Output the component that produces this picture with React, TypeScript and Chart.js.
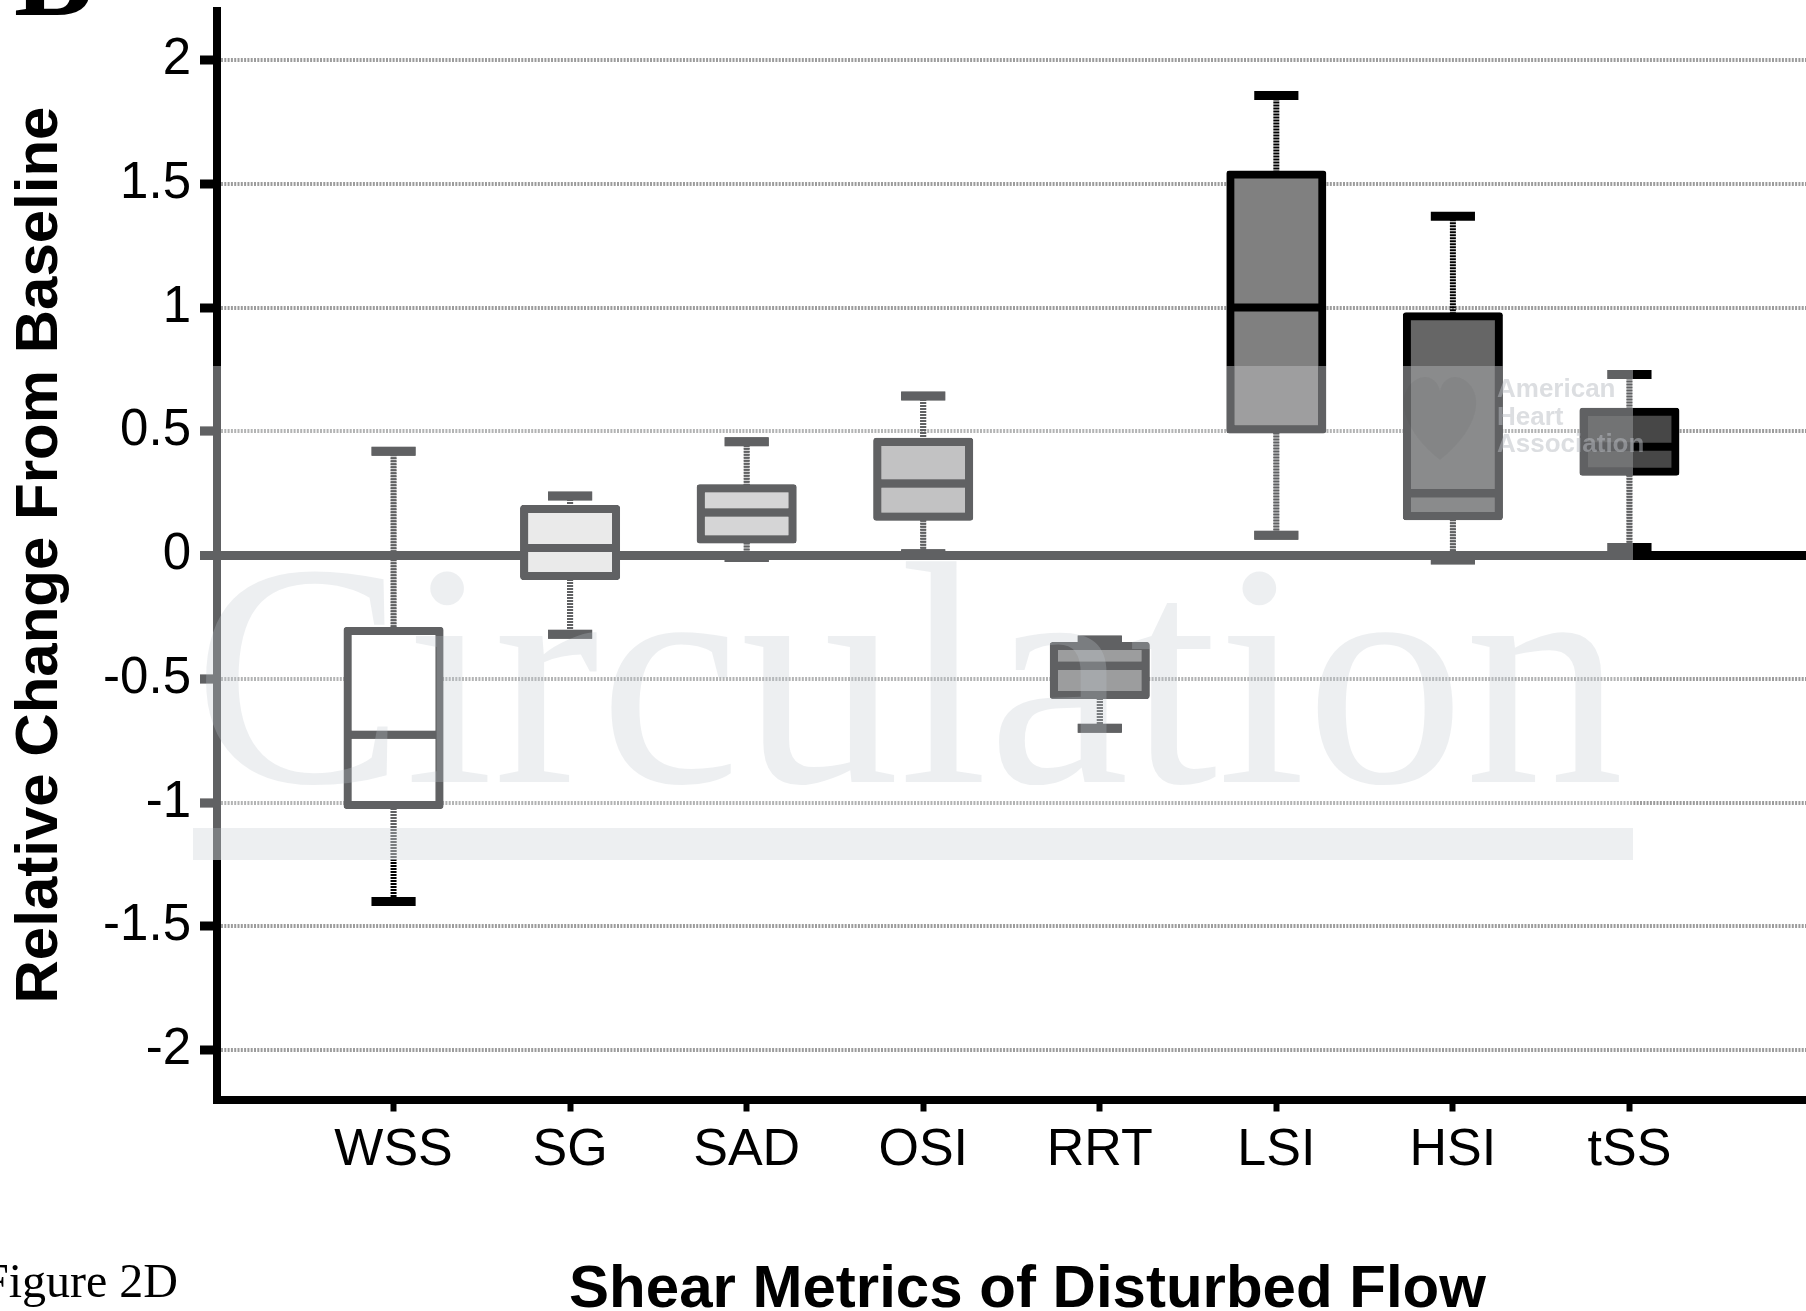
import React, { useEffect, useRef } from 'react';
import { Chart, registerables } from 'chart.js';

Chart.register(...registerables);

// ---- data ----
const CATEGORIES = ['WSS', 'SG', 'SAD', 'OSI', 'RRT', 'LSI', 'HSI', 'tSS'];
const WHISKER_MIN = [-1.40, -0.32, -0.01, 0.005, -0.70, 0.08, -0.02, 0.03];
const Q1 = [-1.01, -0.085, 0.063, 0.155, -0.566, 0.507, 0.157, 0.336];
const MEDIAN = [-0.726, 0.028, 0.172, 0.289, -0.447, 1.0, 0.249, 0.437];
const Q3 = [-0.307, 0.186, 0.27, 0.458, -0.368, 1.537, 0.965, 0.579];
const WHISKER_MAX = [0.419, 0.238, 0.458, 0.642, -0.343, 1.857, 1.369, 0.729];
const BOX_FILLS = ['#ffffff', '#e3e3e3', '#c8c8c8', '#afafaf', '#7e7e7e', '#808080', '#666666', '#474747'];
const Y_TICKS = [-2, -1.5, -1, -0.5, 0, 0.5, 1, 1.5, 2];
const Y_MIN = -2.2;
const Y_MAX = 2.2;
const X_LABELS = ['', ...CATEGORIES, ''];

const SANS = "'Liberation Sans', Arial, sans-serif";
const SERIF = "'Liberation Serif', 'Times New Roman', serif";

const boxPlotPlugin = {
  id: 'boxPlotExtras',
  beforeDraw(chart: any) {
    const ctx = chart.ctx;
    ctx.save();
    ctx.fillStyle = '#ffffff';
    ctx.fillRect(0, 0, chart.width, chart.height);
    ctx.restore();
  },
  beforeDatasetsDraw(chart: any) {
    const ctx = chart.ctx;
    const y = chart.scales.y;
    const meta = chart.getDatasetMeta(0);
    ctx.save();
    ctx.strokeStyle = '#000';
    CATEGORIES.forEach((_, i) => {
      const el = meta.data[i + 1];
      if (!el) return;
      const x = el.x;
      const yMax = y.getPixelForValue(WHISKER_MAX[i]);
      const yQ3 = y.getPixelForValue(Q3[i]);
      const yQ1 = y.getPixelForValue(Q1[i]);
      const yMin = y.getPixelForValue(WHISKER_MIN[i]);
      // dotted whisker stems
      ctx.setLineDash([2, 1]);
      ctx.lineWidth = 6;
      ctx.beginPath();
      ctx.moveTo(x, yMax);
      ctx.lineTo(x, yQ3);
      ctx.moveTo(x, yQ1);
      ctx.lineTo(x, yMin);
      ctx.stroke();
      // caps
      ctx.setLineDash([]);
      ctx.lineWidth = 9;
      const half = el.width * 0.24;
      ctx.beginPath();
      ctx.moveTo(x - half, yMax);
      ctx.lineTo(x + half, yMax);
      ctx.moveTo(x - half, yMin);
      ctx.lineTo(x + half, yMin);
      ctx.stroke();
    });
    ctx.restore();
  },
  afterDatasetsDraw(chart: any) {
    const ctx = chart.ctx;
    const y = chart.scales.y;
    const meta = chart.getDatasetMeta(0);
    ctx.save();
    ctx.strokeStyle = '#000';
    ctx.lineWidth = 8;
    CATEGORIES.forEach((_, i) => {
      const el = meta.data[i + 1];
      if (!el) return;
      const ym = y.getPixelForValue(MEDIAN[i]);
      ctx.beginPath();
      ctx.moveTo(el.x - el.width / 2, ym);
      ctx.lineTo(el.x + el.width / 2, ym);
      ctx.stroke();
    });
    ctx.restore();
  },
  afterDraw(chart: any) {
    const ctx = chart.ctx;
    const xs = chart.scales.x;
    // ---- publisher watermark veil ----
    ctx.save();
    ctx.beginPath();
    ctx.rect(195, 366, 1633 - 195, 860 - 366);
    ctx.globalCompositeOperation = 'screen';
    ctx.fillStyle = 'rgb(60,61,63)';
    ctx.fill();
    ctx.globalCompositeOperation = 'lighten';
    ctx.fillStyle = 'rgb(96,97,99)';
    ctx.fill();
    ctx.restore();

    // "Circulation" watermark and bar
    ctx.save();
    ctx.fillStyle = 'rgba(190,198,206,0.28)';
    ctx.font = `318px ${SERIF}`;
    ctx.textBaseline = 'alphabetic';
    ctx.textAlign = 'left';
    ctx.fillText('Circulation', 193, 782);
    ctx.fillRect(193, 828, 1633 - 193, 32);

    // AHA heart logo
    ctx.beginPath();
    ctx.moveTo(1440, 460);
    ctx.bezierCurveTo(1405, 432, 1397, 402, 1409, 386);
    ctx.bezierCurveTo(1421, 371, 1437, 376, 1440, 391);
    ctx.bezierCurveTo(1443, 376, 1459, 371, 1471, 386);
    ctx.bezierCurveTo(1483, 402, 1475, 432, 1440, 460);
    ctx.fillStyle = 'rgba(40,40,40,0.05)';
    ctx.fill();
    ctx.fillStyle = 'rgba(185,190,196,0.5)';
    ctx.font = `bold 26px ${SANS}`;
    ctx.fillText('American', 1497, 397);
    ctx.fillText('Heart', 1497, 424.5);
    ctx.fillText('Association', 1497, 452);
    ctx.restore();

    // ---- x-axis title ----
    ctx.save();
    ctx.fillStyle = '#000';
    ctx.font = `bold 60px ${SANS}`;
    ctx.textAlign = 'center';
    ctx.textBaseline = 'alphabetic';
    ctx.fillText('Shear Metrics of Disturbed Flow', (xs.left + xs.right) / 2 + 16, 1307);
    ctx.restore();

    // ---- panel label and caption ----
    ctx.save();
    ctx.fillStyle = '#000';
    ctx.textAlign = 'left';
    ctx.textBaseline = 'alphabetic';
    ctx.font = `bold 118px ${SERIF}`;
    ctx.fillText('B', 14, 15);
    ctx.font = `48px ${SERIF}`;
    ctx.fillText('Figure 2D', -18, 1297);
    ctx.restore();
  },
};

export default function App() {
  const canvasRef = useRef<HTMLCanvasElement | null>(null);

  useEffect(() => {
    document.body.style.margin = '0';
    document.body.style.overflow = 'hidden';
    const canvas = canvasRef.current;
    if (!canvas) return;

    const chart = new Chart(canvas, {
      type: 'bar',
      data: {
        labels: X_LABELS,
        datasets: [
          {
            data: [null, ...CATEGORIES.map((_, i) => [Q1[i], Q3[i]]), null] as any,
            backgroundColor: ['rgba(0,0,0,0)', ...BOX_FILLS, 'rgba(0,0,0,0)'],
            borderColor: '#000000',
            borderWidth: 8,
            borderSkipped: false,
            borderRadius: 3,
            barThickness: 92,
            inflateAmount: 4,
          } as any,
        ],
      },
      options: {
        responsive: false,
        animation: false,
        devicePixelRatio: 1,
        layout: { padding: { top: 10.5, left: 0, right: 0, bottom: 0 } },
        plugins: {
          legend: { display: false },
          tooltip: { enabled: false },
          title: { display: false },
        },
        scales: {
          x: {
            type: 'category',
            offset: false,
            grid: {
              display: true,
              offset: false,
              drawOnChartArea: false,
              drawTicks: true,
              tickLength: 12,
              tickWidth: 6,
              color: 'rgba(0,0,0,0)',
              tickColor: (c: any) =>
                c.index === 0 || c.index === X_LABELS.length - 1 ? 'rgba(0,0,0,0)' : '#000000',
            },
            border: { display: true, color: '#000000', width: 8 },
            ticks: {
              font: { family: SANS, size: 52 },
              color: '#000000',
              padding: 8,
              maxRotation: 0,
              minRotation: 0,
              autoSkip: false,
            },
            afterFit: (s: any) => {
              s.height = 211.5;
              s.paddingLeft = 0;
              s.paddingRight = 0;
            },
          },
          y: {
            type: 'linear',
            min: Y_MIN,
            max: Y_MAX,
            afterBuildTicks: (s: any) => {
              s.ticks = Y_TICKS.map((v) => ({ value: v }));
            },
            grid: {
              color: (c: any) => (c.tick && c.tick.value === 0 ? '#000000' : '#9c9c9c'),
              lineWidth: (c: any) => (c.tick && c.tick.value === 0 ? 9 : 4),
              drawTicks: true,
              tickLength: 17,
              tickWidth: 9,
              tickColor: '#000000',
            },
            border: {
              display: true,
              color: '#000000',
              width: 8,
              dash: (c: any) => (c.type === 'tick' && c.tick && c.tick.value !== 0 ? [2, 1.3] : []),
            },
            ticks: {
              font: { family: SANS, size: 51 },
              color: '#000000',
              padding: 9,
              callback: (v: any) => String(v),
            },
            title: {
              display: true,
              text: 'Relative Change From Baseline',
              font: { family: SANS, size: 60, weight: 'bold' },
              color: '#000000',
              padding: { top: 4, bottom: 0 },
            },
            afterFit: (s: any) => {
              s.width = 217;
              s.paddingTop = 0;
              s.paddingBottom = 0;
            },
          },
        },
      } as any,
      plugins: [boxPlotPlugin],
    });

    return () => {
      chart.destroy();
    };
  }, []);

  return (
    <div style={{ width: 1806, height: 1311, overflow: 'hidden' }}>
      <canvas ref={canvasRef} width={1806} height={1311} style={{ display: 'block' }} />
    </div>
  );
}
